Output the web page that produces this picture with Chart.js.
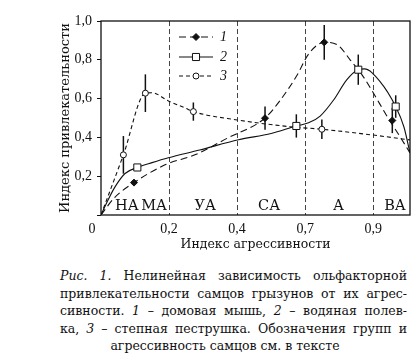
<!DOCTYPE html>
<html><head><meta charset="utf-8">
<script src="https://cdn.jsdelivr.net/npm/chart.js@4"></script>
<style>
html,body{margin:0;padding:0;background:#fff;}
#wrap{position:relative;width:418px;height:361px;overflow:hidden;}
#c{position:absolute;left:0;top:0;}
.cap{position:absolute;font-family:"DejaVu Serif";font-size:12.5px;color:#111;line-height:17.5px;}
.j{left:60px;width:347px;text-align:justify;text-align-last:justify;}
.c{left:60px;width:330px;text-align:center;}
</style></head>
<body>
<div id="wrap">
<canvas id="c" width="418" height="255"></canvas>
<div class="cap j" style="top:267px"><i>Рис. 1.</i> Нелинейная зависимость ольфакторной</div>
<div class="cap j" style="top:284.5px">привлекательности самцов грызунов от их агрес-</div>
<div class="cap j" style="top:302px">сивности. <i>1</i> – домовая мышь, <i>2</i> – водяная полев-</div>
<div class="cap j" style="top:319.5px">ка, <i>3</i> – степная пеструшка. Обозначения групп и</div>
<div class="cap c" style="top:337px">агрессивность самцов см. в тексте</div>
</div>
<script>
// ---- data (x in index-position units: 0,1,2,3,4 = ticks 0, 0,2, 0,4, 0,7, 0,9)
const xTickLabels = ['0', '0,2', '0,4', '0,7', '0,9'];
const yTickValues = [0, 0.2, 0.4, 0.6, 0.8, 1.0];
const yTickLabels = ['', '0,2', '0,4', '0,6', '0,8', '1,0'];
const originLabel = '0';
const groupNames = ['НА', 'МА', 'УА', 'СА', 'А', 'ВА'];
const groupPos = [0.38, 0.78, 1.53, 2.47, 3.49, 4.32];
const seriesNames = ['1', '2', '3'];

// 1 – домовая мышь
const mouseX = [0.485, 2.41, 3.28, 4.28];
const mouseY = [0.167, 0.499, 0.89, 0.487];
const mouseErr = [0, 0.06, 0.09, 0.065];
const mouseCurveX = [0, 0.2, 0.485, 0.95, 1.38, 1.85, 2.41, 2.63, 2.88, 3.05, 3.28, 3.47, 3.66, 3.84, 4.0, 4.2, 4.4, 4.54];
const mouseCurveY = [0, 0.09, 0.167, 0.26, 0.31, 0.395, 0.5, 0.59, 0.72, 0.83, 0.89, 0.878, 0.8, 0.72, 0.63, 0.51, 0.4, 0.32];

// 2 – водяная полевка
const voleX = [0.534, 2.87, 3.78, 4.33];
const voleY = [0.245, 0.459, 0.749, 0.559];
const voleErr = [0.015, 0.06, 0.078, 0.058];
const voleCurveX = [0, 0.1, 0.206, 0.353, 0.534, 0.75, 0.99, 1.45, 2.02, 2.5, 2.87, 3.05, 3.22, 3.42, 3.61, 3.78, 3.87, 4.1, 4.33, 4.45, 4.54];
const voleCurveY = [0, 0.075, 0.145, 0.214, 0.245, 0.27, 0.295, 0.335, 0.388, 0.42, 0.459, 0.475, 0.51, 0.594, 0.697, 0.749, 0.753, 0.688, 0.559, 0.455, 0.32];

// 3 – степная пеструшка
const pestX = [0.329, 0.652, 1.357, 3.245];
const pestY = [0.31, 0.628, 0.533, 0.442];
const pestErr = [0.097, 0.097, 0.047, 0.05];
const pestCurveX = [0, 0.329, 0.652, 0.75, 0.99, 1.24, 1.357, 2.0, 2.78, 3.245, 4.0, 4.54];
const pestCurveY = [0, 0.31, 0.628, 0.63, 0.588, 0.551, 0.533, 0.49, 0.455, 0.442, 0.412, 0.387];

// ---- styles
const INK = '#111';
const SERIF = 'DejaVu Serif';
const TICKFONT = 'Liberation Serif';
const toXY = (xs, ys) => xs.map((x, i) => ({x: x, y: ys[i]}));

const markerStyles = [
  {style: 'rectRot', r: 3.5, fill: INK},
  {style: 'rect', r: 5, fill: '#fff'},
  {style: 'circle', r: 3, fill: '#fff'}
];
const curveDashes = [[7, 4], [], [4, 3]];

function drawMarker(ctx, m, x, y) {
  ctx.save();
  ctx.beginPath();
  if (m.style === 'rectRot') {
    ctx.moveTo(x, y - m.r); ctx.lineTo(x + m.r, y); ctx.lineTo(x, y + m.r); ctx.lineTo(x - m.r, y); ctx.closePath();
  } else if (m.style === 'rect') {
    const s = m.r * Math.SQRT1_2;
    ctx.rect(x - s, y - s, 2 * s, 2 * s);
  } else {
    ctx.arc(x, y, m.r, 0, Math.PI * 2);
  }
  ctx.fillStyle = m.fill; ctx.fill();
  ctx.strokeStyle = INK; ctx.lineWidth = 1; ctx.setLineDash([]); ctx.stroke();
  ctx.restore();
}

const pointSets = [[mouseX, mouseY, mouseErr], [voleX, voleY, voleErr], [pestX, pestY, pestErr]];
const curveSets = [[mouseCurveX, mouseCurveY], [voleCurveX, voleCurveY], [pestCurveX, pestCurveY]];

const datasets = [];
pointSets.forEach((p, i) => {
  datasets.push({
    label: seriesNames[i], data: toXY(p[0], p[1]), errors: p[2], showLine: false,
    pointStyle: markerStyles[i].style, pointRadius: markerStyles[i].r,
    backgroundColor: markerStyles[i].fill, borderColor: INK, borderWidth: 1
  });
});
curveSets.forEach((c, i) => {
  datasets.push({
    label: 'curve' + seriesNames[i], data: toXY(c[0], c[1]), showLine: true,
    borderColor: INK, borderWidth: 1.1, borderDash: curveDashes[i], pointRadius: 0,
    cubicInterpolationMode: 'monotone', fill: false
  });
});

const errorBars = {
  id: 'errorBars',
  beforeDatasetsDraw(chart) {
    const {ctx, scales: {x, y}} = chart;
    ctx.save();
    ctx.strokeStyle = INK; ctx.lineWidth = 1.5; ctx.setLineDash([]);
    chart.data.datasets.forEach(ds => {
      if (!ds.errors) return;
      ds.data.forEach((pt, i) => {
        const e = ds.errors[i];
        if (!e) return;
        const px = x.getPixelForValue(pt.x);
        ctx.beginPath();
        ctx.moveTo(px, y.getPixelForValue(pt.y - e));
        ctx.lineTo(px, y.getPixelForValue(pt.y + e));
        ctx.stroke();
      });
    });
    ctx.restore();
  }
};

const decor = {
  id: 'decor',
  afterDraw(chart) {
    const {ctx, chartArea: a, scales: {x, y}} = chart;
    ctx.save();
    // frame
    ctx.strokeStyle = INK; ctx.lineWidth = 1.3; ctx.setLineDash([]);
    ctx.strokeRect(a.left, a.top, a.right - a.left, a.bottom - a.top);
    // group labels
    ctx.fillStyle = INK;
    ctx.font = '14.5px "' + SERIF + '"';
    ctx.textAlign = 'center'; ctx.textBaseline = 'middle';
    groupNames.forEach((g, i) => {
      ctx.fillText(g, x.getPixelForValue(groupPos[i]), y.getPixelForValue(0.045));
    });
    // origin label
    ctx.font = '14px "' + TICKFONT + '"';
    ctx.fillText(originLabel, a.left - 9, a.bottom + 14);
    // legend
    const rows = [37, 57, 76];
    ctx.font = 'italic 14px "' + TICKFONT + '"';
    ctx.textAlign = 'left';
    rows.forEach((ry, i) => {
      ctx.beginPath();
      ctx.setLineDash(curveDashes[i]);
      ctx.lineWidth = 1.1;
      ctx.moveTo(179, ry); ctx.lineTo(213, ry); ctx.stroke();
      ctx.setLineDash([]);
      drawMarker(ctx, markerStyles[i], 196, ry);
      ctx.fillStyle = INK;
      ctx.fillText(seriesNames[i], 220, ry);
    });
    ctx.restore();
  }
};

new Chart(document.getElementById('c'), {
  type: 'scatter',
  data: {datasets: datasets},
  options: {
    responsive: false, animation: false, devicePixelRatio: 1,
    layout: {padding: {left: 0, top: 21, right: 8, bottom: 0}},
    plugins: {legend: {display: false}, tooltip: {enabled: false}},
    scales: {
      x: {
        type: 'linear', min: 0, max: 4.54,
        afterBuildTicks: s => { s.ticks = xTickLabels.map((_, i) => ({value: i})); },
        afterFit: s => { s.height = 40; },
        ticks: {
          callback: (v, i) => (i === 0 ? '' : xTickLabels[i]),
          font: {family: TICKFONT, size: 14}, color: INK, padding: 6, maxRotation: 0, autoSkip: false
        },
        grid: {
          color: c => (c.tick && c.tick.value > 0 ? '#444' : 'rgba(0,0,0,0)'),
          lineWidth: 1, drawTicks: false
        },
        border: {display: false, dash: [5, 3]},
        title: {display: true, text: 'Индекс агрессивности', font: {family: SERIF, size: 12.5}, color: INK, padding: {top: 0, bottom: 2.5}}
      },
      y: {
        min: 0, max: 1,
        afterBuildTicks: s => { s.ticks = yTickValues.map(v => ({value: v})); },
        afterFit: s => { s.width = 101; },
        ticks: {
          callback: (v, i) => yTickLabels[i],
          font: {family: TICKFONT, size: 14}, color: INK, padding: 5
        },
        grid: {drawOnChartArea: false, drawTicks: true, tickLength: 4, color: INK, tickColor: INK},
        border: {display: false},
        title: {display: true, text: 'Индекс привлекательности', font: {family: SERIF, size: 13}, color: INK, padding: {top: 58, bottom: 0}}
      }
    }
  },
  plugins: [errorBars, decor]
});
</script>
</body></html>
